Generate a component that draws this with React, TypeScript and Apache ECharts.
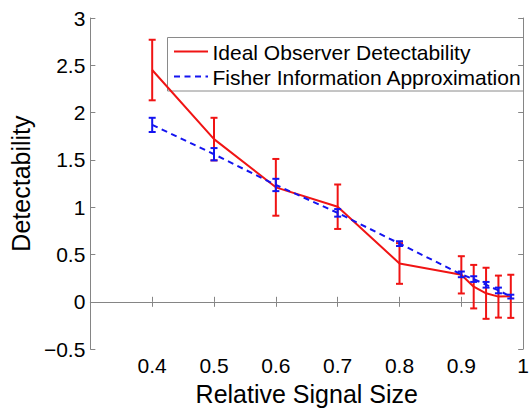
import React, { useEffect, useRef } from "react";
import * as echarts from "echarts";

const xValues = [0.4, 0.5, 0.6, 0.7, 0.8, 0.9, 0.92, 0.94, 0.96, 0.98];
const idealMean = [2.45, 1.72, 1.21, 1.005, 0.405, 0.285, 0.16, 0.09, 0.055, 0.058];
const idealErr = [0.32, 0.225, 0.3, 0.235, 0.215, 0.197, 0.23, 0.27, 0.222, 0.228];
const fisherMean = [1.87, 1.56, 1.235, 0.94, 0.615, 0.29, 0.24, 0.18, 0.12, 0.055];
const fisherErr = [0.075, 0.065, 0.065, 0.04, 0.025, 0.03, 0.03, 0.03, 0.03, 0.02];
const seriesNames = ["Ideal Observer Detectability", "Fisher Information Approximation"];
const xTitle = "Relative Signal Size";
const yTitle = "Detectability";

const RED = "#f01414";
const BLUE = "#1414f0";
const FONT = "Liberation Sans";
const AXIS = "#858585";
const DASH = [6, 4.5];

function fmt(v: number) {
  const r = Math.round(v * 10) / 10;
  const s = String(r);
  return r < 0 ? "\u2212" + s.slice(1) : s;
}

function errorSeries(name: string, mean: number[], err: number[], color: string, z: number) {
  return {
    type: "custom",
    name,
    xAxisIndex: 0,
    yAxisIndex: 0,
    z,
    data: xValues.map((x, i) => [x, mean[i] - err[i], mean[i] + err[i]]),
    encode: { x: 0, y: [1, 2] },
    renderItem: (params: any, api: any) => {
      const x = api.value(0);
      const lo = api.coord([x, api.value(1)]);
      const hi = api.coord([x, api.value(2)]);
      const w = 3.5;
      const style = { stroke: color, lineWidth: 2 };
      return {
        type: "group",
        children: [
          { type: "line", shape: { x1: lo[0], y1: lo[1], x2: hi[0], y2: hi[1] }, style },
          { type: "line", shape: { x1: lo[0] - w, y1: lo[1], x2: lo[0] + w, y2: lo[1] }, style },
          { type: "line", shape: { x1: hi[0] - w, y1: hi[1], x2: hi[0] + w, y2: hi[1] }, style },
        ],
      };
    },
  };
}

export default function App() {
  const ref = useRef<HTMLDivElement>(null);
  useEffect(() => {
    const chart = echarts.init(ref.current!, undefined, { renderer: "svg" });
    const tickStyle = { show: true, inside: true, length: 5, lineStyle: { color: AXIS } };
    const axisLine = { show: true, lineStyle: { color: AXIS, width: 1 } };
    const legendFont = "21px " + FONT;
    chart.setOption({
      animation: false,
      backgroundColor: "#ffffff",
      grid: { left: 88, right: 7, top: 18, bottom: 51, containLabel: false },
      graphic: [
        {
          type: "group",
          z: 100,
          children: [
            {
              type: "rect",
              shape: { x: 167.5, y: 37.5, width: 356, height: 53.5 },
              style: { fill: "#ffffff", stroke: "#8a8a8a", lineWidth: 1 },
            },
            {
              type: "line",
              shape: { x1: 174, y1: 51.5, x2: 208, y2: 51.5 },
              style: { stroke: RED, lineWidth: 2 },
            },
            {
              type: "line",
              shape: { x1: 174, y1: 76.5, x2: 208, y2: 76.5 },
              style: { stroke: BLUE, lineWidth: 2, lineDash: DASH },
            },
            {
              type: "text",
              x: 212.5,
              y: 52,
              style: { text: seriesNames[0], font: legendFont, fill: "#000", verticalAlign: "middle", align: "left" },
            },
            {
              type: "text",
              x: 212.5,
              y: 77,
              style: { text: seriesNames[1], font: legendFont, fill: "#000", verticalAlign: "middle", align: "left" },
            },
          ],
        },
      ],
      xAxis: [
        {
          type: "value",
          min: 0.3,
          max: 1,
          interval: 0.1,
          axisLine,
          axisTick: tickStyle,
          splitLine: { show: false },
          axisLabel: {
            fontSize: 21,
            fontFamily: FONT,
            color: "#000",
            margin: 6,
            formatter: (v: number) => (v < 0.35 ? "" : fmt(v)),
          },
          name: xTitle,
          nameLocation: "middle",
          nameGap: 24,
          nameTextStyle: { fontSize: 25, color: "#000", fontFamily: FONT },
        },
        {
          type: "value",
          position: "top",
          min: 0.3,
          max: 1,
          interval: 0.1,
          axisLine,
          axisTick: tickStyle,
          splitLine: { show: false },
          axisLabel: { show: false },
        },
      ],
      yAxis: [
        {
          type: "value",
          min: -0.5,
          max: 3,
          interval: 0.5,
          axisLine,
          axisTick: tickStyle,
          splitLine: { show: false },
          axisLabel: { fontSize: 21, fontFamily: FONT, color: "#000", margin: 5, formatter: (v: number) => fmt(v) },
          name: yTitle,
          nameLocation: "middle",
          nameGap: 52,
          nameTextStyle: { fontSize: 25, color: "#000", fontFamily: FONT },
        },
        {
          type: "value",
          position: "right",
          min: -0.5,
          max: 3,
          interval: 0.5,
          axisLine,
          axisTick: tickStyle,
          splitLine: { show: false },
          axisLabel: { show: false },
        },
      ],
      series: [
        errorSeries("idealErr", idealMean, idealErr, RED, 2),
        {
          name: seriesNames[0],
          type: "line",
          data: xValues.map((x, i) => [x, idealMean[i]]),
          symbol: "none",
          lineStyle: { color: RED, width: 2 },
          itemStyle: { color: RED },
          z: 3,
        },
        {
          name: seriesNames[1],
          type: "line",
          data: xValues.map((x, i) => [x, fisherMean[i]]),
          symbol: "none",
          lineStyle: { color: BLUE, width: 2, type: DASH },
          itemStyle: { color: BLUE },
          z: 4,
        },
        errorSeries("fisherErr", fisherMean, fisherErr, BLUE, 5),
      ],
    });
    return () => chart.dispose();
  }, []);
  return (
    <div
      ref={ref}
      style={{ position: "fixed", left: 0, top: 0, width: 532, height: 411 }}
    />
  );
}
